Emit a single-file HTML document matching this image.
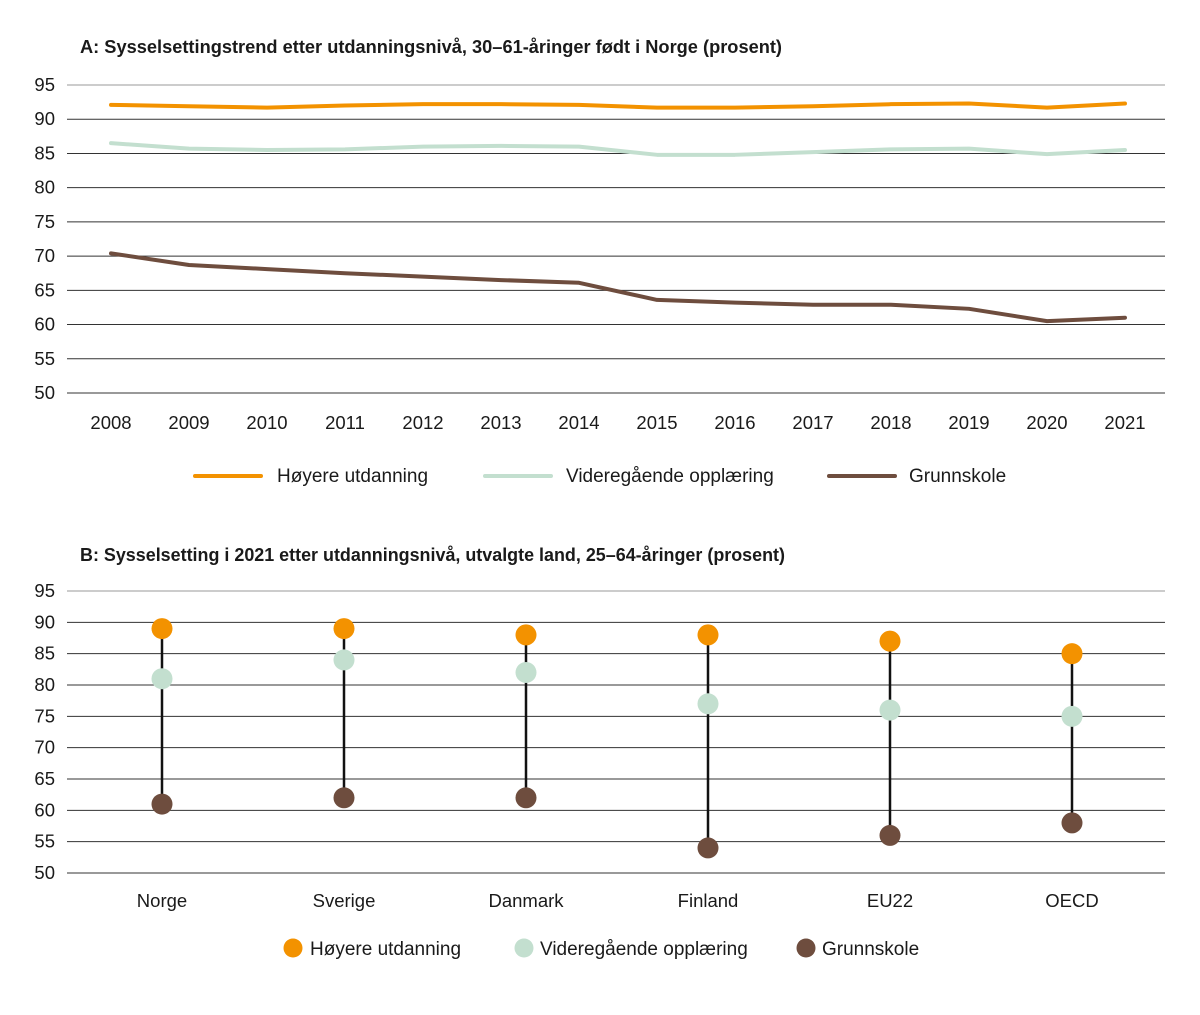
<!DOCTYPE html>
<html><head><meta charset="utf-8"><style>
body{margin:0;background:#fff;width:1200px;height:1010px;overflow:hidden;font-family:"Liberation Sans",sans-serif;}
svg text{font-family:"Liberation Sans",sans-serif;fill:#1a1a1a;}
</style></head><body>
<svg id="c" width="1200" height="1010"></svg>
<script>
const years=["2008","2009","2010","2011","2012","2013","2014","2015","2016","2017","2018","2019","2020","2021"];
const highA=[92.1,91.9,91.7,92.0,92.2,92.2,92.1,91.7,91.7,91.9,92.2,92.3,91.7,92.3];
const midA=[86.5,85.7,85.5,85.6,86.0,86.1,86.0,84.8,84.8,85.2,85.6,85.7,84.9,85.5];
const lowA=[70.4,68.7,68.1,67.5,67.0,66.5,66.1,63.6,63.2,62.9,62.9,62.3,60.5,61.0];
const countries=["Norge","Sverige","Danmark","Finland","EU22","OECD"];
const highB=[89,89,88,88,87,85];
const midB=[81,84,82,77,76,75];
const lowB=[61,62,62,54,56,58];
const yTicks=[95,90,85,80,75,70,65,60,55,50];
const seriesNames=["Høyere utdanning","Videregående opplæring","Grunnskole"];
const colors=["#f39200","#c3dfcf","#6e4d3e"];
const svg=document.getElementById('c');const NS="http://www.w3.org/2000/svg";
const FS=18.5;
function mk(t,a,p){const e=document.createElementNS(NS,t);for(const k in a)e.setAttribute(k,a[k]);(p||svg).appendChild(e);return e;}
function txt(s,x,y,a,p){const e=mk('text',Object.assign({x:x,y:y,'font-size':FS},a||{}),p);e.textContent=s;return e;}
// Chart A
const gA=mk('g',{});
const tA=txt("A: Sysselsettingstrend etter utdanningsnivå, 30–61-åringer født i Norge (prosent)",80,53,{'font-weight':'bold','font-size':18.2,'textLength':702,'lengthAdjust':'spacingAndGlyphs'},gA);

const yA=v=>393-(v-50)*(308/45), xA=i=>111+i*78;
yTicks.forEach(v=>{const l=mk('line',{x1:67,x2:1165,y1:yA(v),y2:yA(v),stroke:v==95?'#999':'#333','stroke-width':1},gA);

const t=txt(v,55,yA(v)+6,{'text-anchor':'end'},gA);});
years.forEach((y,i)=>{const t=txt(y,xA(i),429,{'text-anchor':'middle'},gA);});
[highA,midA,lowA].forEach((s,k)=>{const p=mk('polyline',{points:s.map((v,i)=>xA(i)+','+yA(v)).join(' '),fill:'none',stroke:colors[k],'stroke-width':4,'stroke-linecap':'round','stroke-linejoin':'round'},gA);
});
const legA=[[195,277],[485,566],[829,909]];
legA.forEach((l,k)=>{const ln=mk('line',{x1:l[0],x2:l[0]+66,y1:476,y2:476,stroke:colors[k],'stroke-width':4,'stroke-linecap':'round'},gA);

const t=txt(seriesNames[k],l[1],482,{'font-size':19},gA);});
// Chart B
const gB=mk('g',{});
const tB=txt("B: Sysselsetting i 2021 etter utdanningsnivå, utvalgte land, 25–64-åringer (prosent)",80,561,{'font-weight':'bold','font-size':18.2,'textLength':705,'lengthAdjust':'spacingAndGlyphs'},gB);

const yB=v=>873-(v-50)*(282/45), xB=i=>162+i*182;
yTicks.forEach(v=>{const l=mk('line',{x1:67,x2:1165,y1:yB(v),y2:yB(v),stroke:v==95?'#999':'#333','stroke-width':1},gB);

const t=txt(v,55,yB(v)+6,{'text-anchor':'end'},gB);});
countries.forEach((c,i)=>{const t=txt(c,xB(i),907,{'text-anchor':'middle'},gB);
const ln=mk('line',{x1:xB(i),x2:xB(i),y1:yB(highB[i]),y2:yB(lowB[i]),stroke:'#111','stroke-width':2.5},gB);

[highB,midB,lowB].forEach((s,k)=>{const d=mk('circle',{cx:xB(i),cy:yB(s[i]),r:10.5,fill:colors[k]},gB);
});});
const legB=[[293,310],[524,540],[806,822]];
legB.forEach((l,k)=>{const d=mk('circle',{cx:l[0],cy:948,r:9.5,fill:colors[k]},gB);
const t=txt(seriesNames[k],l[1],955,{'font-size':19},gB);});
</script>
</body></html>
